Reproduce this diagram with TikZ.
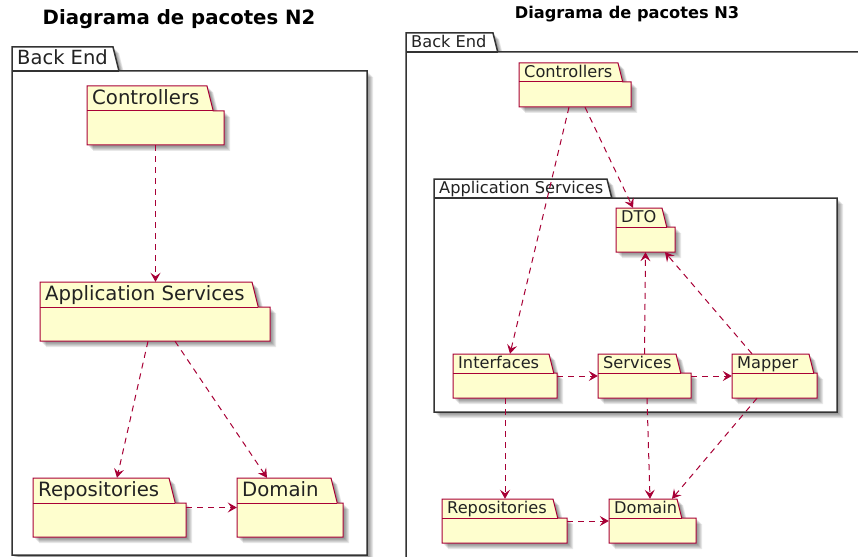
\documentclass[tikz,border=0pt]{standalone}
\usepackage{fontspec}
\setmainfont{DejaVu Sans}
\usetikzlibrary{arrows.meta,fit}

\definecolor{pkgfill}{HTML}{FEFECE}
\definecolor{pkgline}{HTML}{A80036}
\definecolor{framegray}{HTML}{333333}
\definecolor{labeltext}{HTML}{222222}

\tikzset{
  pkgborder/.style={draw=pkgline, line width=1pt, fill=pkgfill},
  frameborder/.style={draw=framegray, line width=1.5pt, fill=white},
  dep/.style={draw=pkgline, line width=1pt, dash pattern=on 6pt off 5pt,
    -{Stealth[length=9pt,width=10pt,inset=3.5pt]}},
  anchorbox/.style={inner sep=0pt, draw=none, fill=none},
  titletext/.style={font=\bfseries, anchor=base, inner sep=0pt},
}

% Folder outline: #1 style, #2 x1, #3 tab top, #4 tab right, #5 body top, #6 x2, #7 bottom
\newcommand\foldershape[7]{%
  \foreach \s in {2,3,4,5,6}{%
    \fill[black, opacity=0.09, shift={(\s,\s)}]
      (#2,#5) -- (#2,#3) -- (#4,#3) -- ({#4+0.25*(#5-#3)},#5) -- (#6,#5) -- (#6,#7) -- (#2,#7) -- cycle;
  }
  \draw[#1] (#2,#5) -- (#2,#3) -- (#4,#3) -- ({#4+0.25*(#5-#3)},#5) -- (#6,#5) -- (#6,#7) -- (#2,#7) -- cycle;
  \draw[#1, fill=none] (#2,#5) -- ({#4+0.25*(#5-#3)},#5);
}

% Package: #1 name, #2 x1, #3 tab top, #4 tab right, #5 body top, #6 x2, #7 bottom, #8 label, #9 font size
\newcommand\pkg[9]{%
  \foldershape{pkgborder}{#2}{#3}{#4}{#5}{#6}{#7}
  \node[anchor=base west, inner sep=0pt, text=labeltext, font=\fontsize{#9pt}{#9pt}\selectfont]
    (#1-label) at ({#2+5},{(#3+#5)/2+0.3*#9}) {#8};
  \node[anchorbox, fit={(#2,#3)(#6,#7)}] (#1) {};
}

% Container frame with the same folder look
\newcommand\pkgframe[9]{%
  \foldershape{frameborder}{#2}{#3}{#4}{#5}{#6}{#7}
  \node[anchor=base west, inner sep=0pt, text=labeltext, font=\fontsize{#9pt}{#9pt}\selectfont]
    (#1-label) at ({#2+5},{(#3+#5)/2+0.3*#9}) {#8};
  \node[anchorbox, fit={(#2,#3)(#6,#7)}] (#1) {};
}

\begin{document}
\begin{tikzpicture}[x=1pt, y=-1pt]
  \useasboundingbox (0,0) rectangle (858,556);
  \clip (0,0) rectangle (858,556);

  % ---------- Level 2 ----------
  \node[titletext, font=\bfseries\fontsize{19.7pt}{20pt}\selectfont] (title2) at (179,25) {Diagrama de pacotes N2};

  \pkgframe{backend2}{12}{47}{113}{71}{367}{555}{Back End}{19.5}

  \pkg{ctrl2}{87}{86}{207}{111}{224}{145}{Controllers}{19.7}
  \pkg{app2}{40}{282}{252}{307}{270}{341}{Application Services}{19.7}
  \pkg{repo2}{33}{478}{169}{503}{186}{537}{Repositories}{19.7}
  \pkg{dom2}{237}{478}{331}{503}{343}{537}{Domain}{19.7}

  \draw[dep] (ctrl2.south) -- (ctrl2.south |- app2.north);
  \draw[dep] ([xshift=-7]app2.south) -- ([xshift=7.5]repo2.north);
  \draw[dep] ([xshift=20]app2.south) -- ([xshift=-23]dom2.north);
  \draw[dep] (repo2.east) -- (dom2.west);

  % ---------- Level 3 ----------
  \node[titletext, font=\bfseries\fontsize{16.2pt}{17pt}\selectfont] (title3) at (627,19) {Diagrama de pacotes N3};

  \pkgframe{backend3}{406}{33}{493}{52}{880}{580}{Back End}{16.2}
  \pkgframe{appsvc3}{434}{179}{607}{198}{837}{412}{Application Services}{16.2}

  \pkg{ctrl3}{519}{63}{618}{82}{631}{107}{Controllers}{16.2}
  \pkg{dto3}{616}{208}{662}{227}{675}{252}{DTO}{16.2}
  \pkg{intf3}{453}{354}{549}{373}{557}{398}{Interfaces}{16.2}
  \pkg{svc3}{598}{354}{676}{373}{691}{398}{Services}{16.2}
  \pkg{map3}{732}{354}{809}{373}{817}{398}{Mapper}{16.2}
  \pkg{repo3}{442}{499}{553}{518}{567}{543}{Repositories}{16.2}
  \pkg{dom3}{609}{499}{677}{518}{696}{543}{Domain}{16.2}

  \draw[dep] ([xshift=-6]ctrl3.south) -- ([xshift=5]intf3.north);
  \draw[dep] ([xshift=10]ctrl3.south) -- ([xshift=-12.5]dto3.north);
  \draw[dep] (svc3.north) -- (dto3.south);
  \draw[dep] ([xshift=-22.5]map3.north) -- ([xshift=19.5]dto3.south);
  \draw[dep] (intf3.east) -- (svc3.west);
  \draw[dep] (svc3.east) -- (map3.west);
  \draw[dep] (intf3.south) -- (intf3.south |- repo3.north);
  \draw[dep] ([xshift=2.5]svc3.south) -- ([xshift=-2.5]dom3.north);
  \draw[dep] ([xshift=-17.5]map3.south) -- ([xshift=19.5]dom3.north);
  \draw[dep] (repo3.east) -- (dom3.west);
\end{tikzpicture}
\end{document}
